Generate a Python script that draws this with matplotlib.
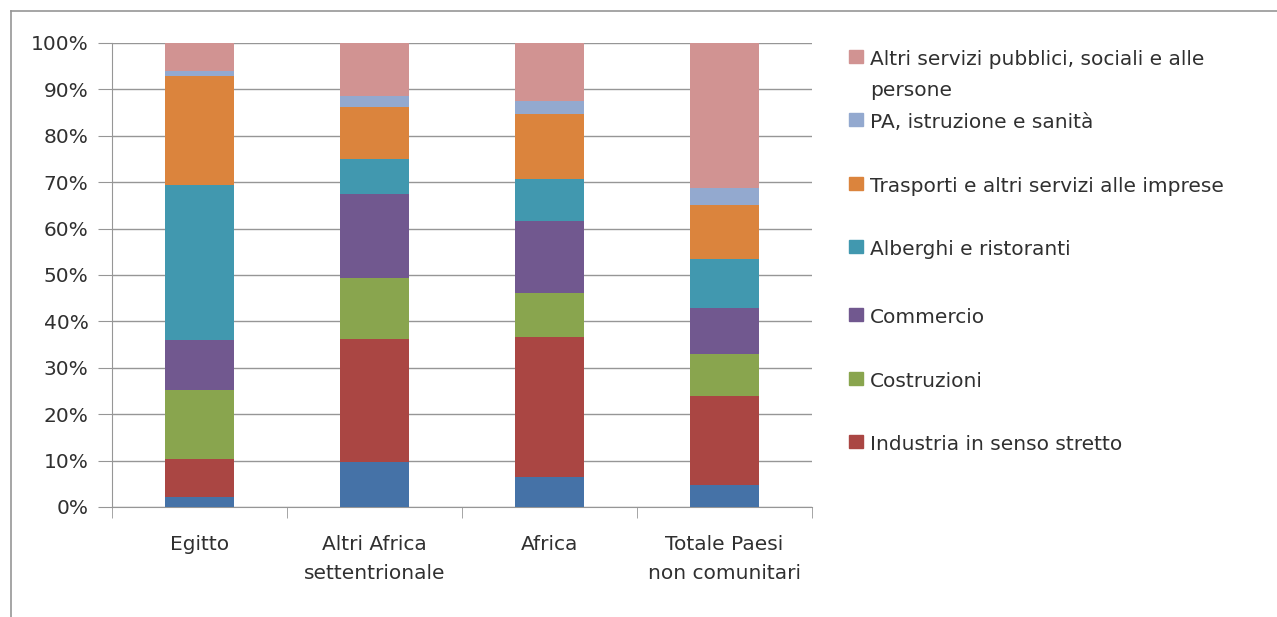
import matplotlib.pyplot as plt
from matplotlib.patches import Rectangle
import matplotlib.lines as mlines

plt.rcParams['font.family'] = ['DejaVu Sans']

categories = ['Egitto', 'Altri Africa\nsettentrionale', 'Africa', 'Totale Paesi\nnon comunitari']

# shares (%), bottom to top
agricoltura = [2.2, 9.6, 6.4, 4.8]
industria = [8.1, 26.6, 30.2, 19.2]
costruzioni = [14.9, 13.2, 9.6, 8.9]
commercio = [10.8, 18.0, 15.4, 9.9]
alberghi = [33.3, 7.7, 9.1, 10.6]
trasporti = [23.5, 11.0, 14.0, 11.7]
pa = [1.2, 2.5, 2.9, 3.7]
altri = [6.0, 11.4, 12.4, 31.2]

series = [
    ('Agricoltura', agricoltura, '#4572A7'),
    ('Industria in senso stretto', industria, '#AA4643'),
    ('Costruzioni', costruzioni, '#89A54E'),
    ('Commercio', commercio, '#71588F'),
    ('Alberghi e ristoranti', alberghi, '#4198AF'),
    ('Trasporti e altri servizi alle imprese', trasporti, '#DB843D'),
    ('PA, istruzione e sanità', pa, '#93A9CF'),
    ('Altri servizi pubblici, sociali e alle\npersone', altri, '#D19392'),
]

W, H = 1277, 617
fig = plt.figure(figsize=(W / 100, H / 100), dpi=100)
ax = fig.add_axes([112 / W, (H - 507) / H, 700 / W, 464 / H])

x = range(len(categories))
bottom = [0.0] * len(categories)
for name, vals, col in series:
    ax.bar(x, vals, bottom=bottom, width=0.39, color=col, zorder=3)
    bottom = [b + v for b, v in zip(bottom, vals)]

grid_col = '#969696'
txt_col = '#303030'
ax.set_xlim(-0.5, len(categories) - 0.5)
ax.set_ylim(0, 100)
ax.set_yticks(range(0, 101, 10))
ax.set_yticklabels([f'{v}%' for v in range(0, 101, 10)], fontsize=14.5, color=txt_col)
ax.yaxis.grid(True, color=grid_col, linewidth=1, zorder=0)
ax.set_xticks(list(x))
ax.set_xticklabels(categories, fontsize=14.5, color=txt_col, linespacing=1.65)
ax.set_xticks([i - 0.5 for i in range(len(categories) + 1)], minor=True)
ax.tick_params(axis='x', which='major', length=0, pad=20)
ax.tick_params(axis='x', which='minor', length=8, color=grid_col, direction='out')
ax.tick_params(axis='y', length=10, color=grid_col, pad=7)
for s in ['top', 'right']:
    ax.spines[s].set_visible(False)
for s in ['left', 'bottom']:
    ax.spines[s].set_color(grid_col)

# chart area border (only top and left visible in the crop)
fig.add_artist(mlines.Line2D([11 / W, 1], [1 - 11 / H, 1 - 11 / H], color=grid_col, lw=1.2))
fig.add_artist(mlines.Line2D([11 / W, 11 / W], [1 - 11 / H, 0], color=grid_col, lw=1.2))

# legend (Agricoltura entry is cut off in the original)
baselines = [65, 128, 192, 255, 323, 387, 450]
for (name, vals, col), by in zip(series[::-1][:7], baselines):
    fig.add_artist(Rectangle((849 / W, 1 - (by - 2) / H), 14 / W, 13 / H,
                             transform=fig.transFigure, color=col))
    first, *rest = name.split('\n')
    fig.text(870 / W, 1 - by / H, first, fontsize=14.5, color=txt_col,
             va='baseline', ha='left')
    for k, line in enumerate(rest, start=1):
        fig.text(870 / W, 1 - (by + 31 * k) / H, line, fontsize=14.5, color=txt_col,
                 va='baseline', ha='left')

fig.savefig('out.png', dpi=100, facecolor='white')
